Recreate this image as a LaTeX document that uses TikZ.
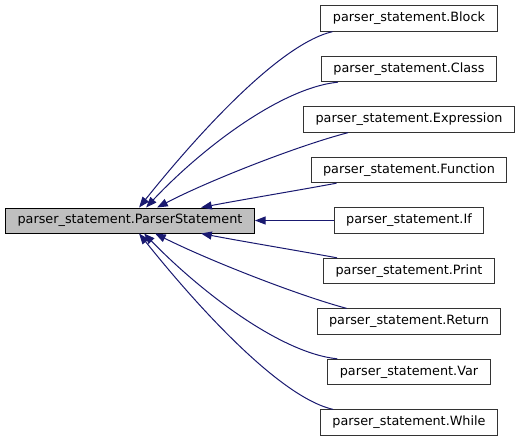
\documentclass[tikz,border=0pt]{standalone}
\usepackage{fontspec}
\setmainfont{DejaVu Sans}
\usepackage{xcolor}
\usepackage{tikz}
\usetikzlibrary{arrows.meta,calc}
\definecolor{edgeblue}{HTML}{191970}
\tikzset{
psbase/.style={rectangle,draw=black,fill=black!25,line width=0.75pt,inner xsep=9pt,inner ysep=0pt,minimum height=18.75pt},
pschild/.style={rectangle,draw=black!80,fill=white,line width=0.75pt,inner xsep=9pt,inner ysep=0pt,minimum height=19pt},
psarr/.style={-{Triangle[length=8pt,width=6pt]},edgeblue,line width=0.75pt}
}

\begin{document}
\begin{tikzpicture}[
x=0.75pt,
y=-0.75pt,
every node/.style={font=\fontsize{9.6}{11.5}\selectfont}
]
\useasboundingbox (0,0) rectangle (520,443);
\node[psbase] (parser) at (130,220.5) {parser\_statement.ParserStatement};
\node[pschild] (block) at (409,18.5) {parser\_statement.Block};
\node[pschild] (class) at (409,69) {parser\_statement.Class};
\node[pschild] (expression) at (409,119.5) {parser\_statement.Expression};
\node[pschild] (function) at (409,170) {parser\_statement.Function};
\node[pschild] (ifstmt) at (409,220.5) {parser\_statement.If};
\node[pschild] (print) at (409,271) {parser\_statement.Print};
\node[pschild] (return) at (409,321.5) {parser\_statement.Return};
\node[pschild] (var) at (409,372) {parser\_statement.Var};
\node[pschild] (while) at (409,422.5) {parser\_statement.While};
% edges above the base class
\draw[psarr] ($(block.south west)+(12,0)$) .. controls (275,45) and (185,150) .. ($(parser.north west)+(134,0)$);
\draw[psarr] ($(class.south west)+(17,0)$) .. controls (280,88) and (200,150) .. ($(parser.north west)+(141,0)$);
\draw[psarr] ($(expression.south west)+(45,0)$) .. controls (300,145) and (210,180) .. ($(parser.north west)+(152,0)$);
\draw[psarr] ($(function.south west)+(26,0)$) .. controls (300,190) and (240,200) .. ($(parser.north west)+(196,0)$);
\draw[psarr] (ifstmt.west) -- (parser.east);
% edges below the base class
\draw[psarr] ($(print.north west)+(14,0)$) .. controls (300,251) and (240,241) .. ($(parser.south west)+(196,0)$);
\draw[psarr] ($(return.north west)+(30,0)$) .. controls (300,296) and (210,261) .. ($(parser.south west)+(150,0)$);
\draw[psarr] ($(var.north west)+(10,0)$) .. controls (280,353) and (200,291) .. ($(parser.south west)+(139,0)$);
\draw[psarr] ($(while.north west)+(13,0)$) .. controls (275,396) and (185,291) .. ($(parser.south west)+(134,0)$);
\end{tikzpicture}
\end{document}
